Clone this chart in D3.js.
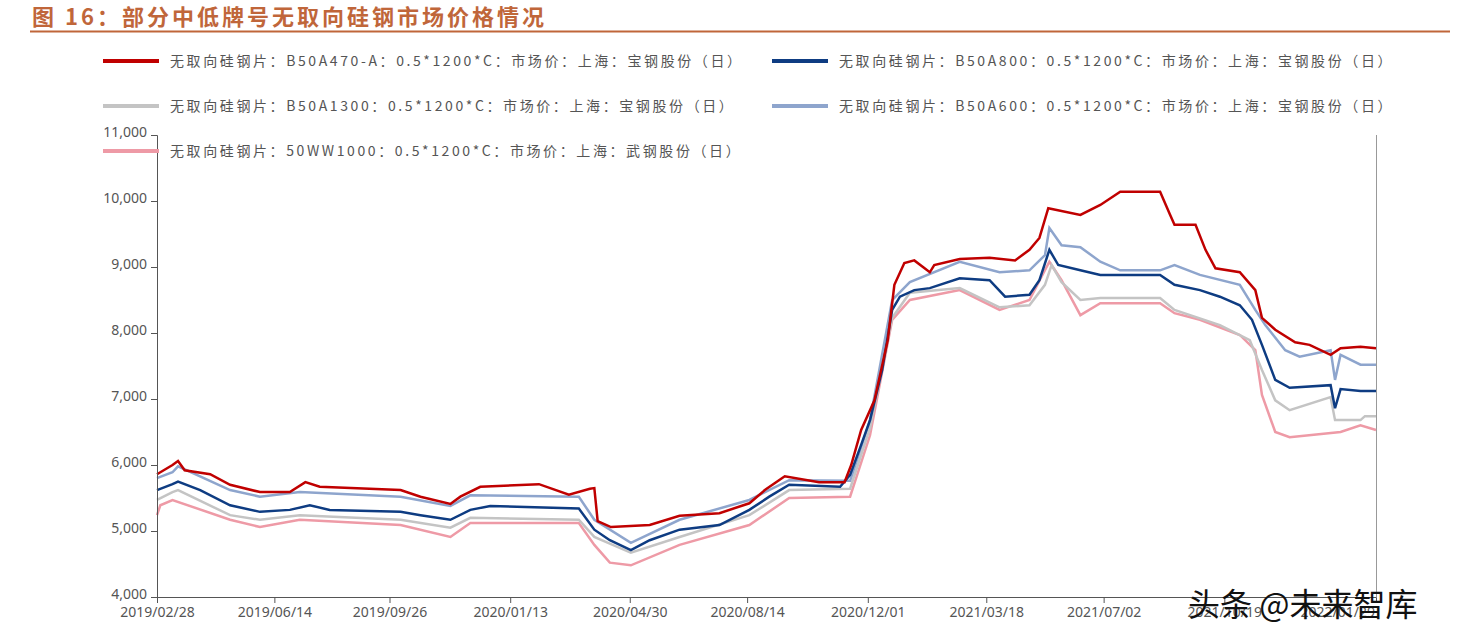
<!DOCTYPE html>
<html><head><meta charset="utf-8">
<script src="https://cdn.jsdelivr.net/npm/d3@7"></script>
<style>body{margin:0;background:#fff;font-family:"Noto Sans CJK SC","DejaVu Sans",sans-serif}</style>
</head><body><svg id="c" width="1480" height="643"></svg>
<script>
const tickDates=["2019-02-28","2019-06-14","2019-09-26","2020-01-13","2020-04-30","2020-08-14","2020-12-01","2021-03-18","2021-07-02","2021-10-19","2022-01-29"];
const tickLabels=["2019/02/28","2019/06/14","2019/09/26","2020/01/13","2020/04/30","2020/08/14","2020/12/01","2021/03/18","2021/07/02","2021/10/19","2022/01/29"];
const yTicks=[4000,5000,6000,7000,8000,9000,10000,11000];
const seriesNames=["无取向硅钢片：B50A470-A：0.5*1200*C：市场价：上海：宝钢股份（日）","无取向硅钢片：B50A800：0.5*1200*C：市场价：上海：宝钢股份（日）","无取向硅钢片：B50A1300：0.5*1200*C：市场价：上海：宝钢股份（日）","无取向硅钢片：B50A600：0.5*1200*C：市场价：上海：宝钢股份（日）","无取向硅钢片：50WW1000：0.5*1200*C：市场价：上海：武钢股份（日）"];
const colors=["#c00000","#0e3c82","#c4c4c4","#8ea5cd","#ee9aa6"];
const redData=[["2019-02-28",5860],["2019-03-14",6000],["2019-03-19",6060],["2019-03-25",5920],["2019-04-17",5860],["2019-05-05",5700],["2019-06-01",5590],["2019-06-28",5590],["2019-07-12",5740],["2019-07-25",5670],["2019-10-06",5620],["2019-10-24",5520],["2019-11-20",5410],["2019-11-29",5520],["2019-12-17",5670],["2020-02-08",5710],["2020-03-06",5550],["2020-03-25",5640],["2020-03-29",5650],["2020-04-01",5150],["2020-04-13",5060],["2020-05-18",5090],["2020-06-14",5230],["2020-07-20",5270],["2020-08-16",5420],["2020-08-30",5620],["2020-09-17",5830],["2020-10-18",5740],["2020-11-10",5740],["2020-11-16",6000],["2020-11-25",6530],["2020-12-07",6980],["2020-12-19",7890],["2020-12-25",8730],["2021-01-03",9060],["2021-01-12",9100],["2021-01-26",8920],["2021-01-30",9030],["2021-02-22",9120],["2021-03-21",9140],["2021-04-13",9100],["2021-04-26",9260],["2021-05-05",9440],["2021-05-13",9890],["2021-06-11",9790],["2021-06-29",9940],["2021-07-17",10140],["2021-08-22",10140],["2021-08-31",9790],["2021-09-04",9640],["2021-09-23",9640],["2021-10-02",9260],["2021-10-11",8980],["2021-11-02",8920],["2021-11-16",8650],["2021-11-22",8230],["2021-12-04",8050],["2021-12-22",7860],["2022-01-04",7820],["2022-01-23",7670],["2022-02-01",7770],["2022-02-19",7790],["2022-03-05",7770]];
const navyData=[["2019-02-28",5620],["2019-03-14",5710],["2019-03-19",5750],["2019-04-08",5620],["2019-05-05",5390],["2019-06-01",5290],["2019-06-28",5320],["2019-07-16",5390],["2019-08-03",5320],["2019-10-06",5290],["2019-10-24",5240],["2019-11-20",5170],["2019-12-08",5320],["2019-12-26",5380],["2020-03-15",5340],["2020-03-29",5020],["2020-04-12",4860],["2020-05-01",4710],["2020-05-18",4860],["2020-06-14",5020],["2020-07-20",5090],["2020-08-16",5320],["2020-09-03",5520],["2020-09-21",5700],["2020-11-06",5670],["2020-11-15",5850],["2020-11-24",6260],["2020-12-03",6680],["2020-12-14",7440],["2020-12-23",8350],["2020-12-30",8550],["2021-01-12",8650],["2021-01-26",8680],["2021-02-22",8830],["2021-03-21",8800],["2021-04-04",8550],["2021-04-26",8580],["2021-05-05",8800],["2021-05-14",9260],["2021-05-22",9030],["2021-06-11",8950],["2021-06-29",8880],["2021-08-22",8880],["2021-09-04",8730],["2021-09-27",8650],["2021-10-15",8550],["2021-11-02",8420],["2021-11-13",8200],["2021-11-22",7820],["2021-12-04",7290],["2021-12-17",7170],["2022-01-23",7210],["2022-01-27",6860],["2022-02-01",7150],["2022-02-19",7120],["2022-03-05",7120]];
const grayData=[["2019-02-28",5470],["2019-03-14",5590],["2019-03-19",5620],["2019-05-05",5240],["2019-06-01",5170],["2019-07-07",5240],["2019-10-06",5170],["2019-11-20",5050],["2019-12-08",5200],["2020-03-15",5170],["2020-03-29",4910],["2020-05-01",4670],["2020-06-14",4910],["2020-08-16",5240],["2020-09-21",5620],["2020-11-15",5640],["2020-12-03",6560],["2020-12-23",8230],["2021-01-08",8610],["2021-02-22",8680],["2021-03-30",8390],["2021-04-26",8420],["2021-05-10",8730],["2021-05-16",9030],["2021-05-25",8770],["2021-06-11",8500],["2021-06-29",8530],["2021-08-22",8530],["2021-09-04",8350],["2021-10-15",8120],["2021-11-11",7890],["2021-11-22",7440],["2021-12-04",6980],["2021-12-17",6830],["2022-01-23",7030],["2022-01-27",6680],["2022-02-19",6680],["2022-02-23",6740],["2022-03-05",6740]];
const lblueData=[["2019-02-28",5800],["2019-03-14",5890],["2019-03-19",5980],["2019-05-05",5620],["2019-06-01",5520],["2019-07-07",5590],["2019-10-06",5520],["2019-11-20",5380],["2019-12-08",5540],["2020-03-15",5520],["2020-03-29",5170],["2020-05-01",4820],["2020-06-14",5170],["2020-08-16",5470],["2020-09-21",5770],["2020-11-15",5760],["2020-12-03",6680],["2020-12-23",8500],["2021-01-08",8770],["2021-02-22",9080],["2021-03-30",8920],["2021-04-26",8950],["2021-05-10",9180],["2021-05-14",9590],["2021-05-25",9330],["2021-06-11",9300],["2021-06-29",9080],["2021-07-17",8950],["2021-08-22",8950],["2021-09-04",9030],["2021-09-27",8880],["2021-11-02",8730],["2021-11-16",8350],["2021-11-25",8120],["2021-12-13",7740],["2021-12-26",7640],["2022-01-23",7740],["2022-01-27",7290],["2022-02-01",7670],["2022-02-19",7520],["2022-03-05",7520]];
const pinkData=[["2019-02-28",5240],["2019-03-03",5390],["2019-03-14",5470],["2019-05-05",5170],["2019-06-01",5060],["2019-07-07",5170],["2019-10-06",5090],["2019-11-20",4910],["2019-12-08",5120],["2020-03-15",5120],["2020-03-29",4790],["2020-04-12",4520],["2020-05-01",4480],["2020-06-14",4790],["2020-08-16",5090],["2020-09-21",5500],["2020-11-15",5520],["2020-12-03",6450],["2020-12-23",8200],["2021-01-08",8500],["2021-02-22",8650],["2021-03-30",8350],["2021-04-26",8500],["2021-05-14",9080],["2021-05-25",8800],["2021-06-11",8270],["2021-06-29",8450],["2021-08-22",8450],["2021-09-04",8300],["2021-09-27",8200],["2021-11-02",7970],["2021-11-16",7740],["2021-11-22",7060],["2021-12-04",6500],["2021-12-17",6420],["2022-02-01",6500],["2022-02-19",6600],["2022-03-05",6530]];
const drawOrder=[[pinkData,4],[grayData,2],[lblueData,3],[navyData,1],[redData,0]];

const svg=d3.select("#c");
const P=d3.timeParse("%Y-%m-%d");
const x=d3.scaleTime().domain([P("2019-02-28"),P("2022-03-05")]).range([157,1376]);
const y=d3.scaleLinear().domain([4000,11000]).range([597,135]);
const tc="#c0663a";
svg.append("text").attr("x",32).attr("y",25).attr("fill",tc).attr("font-size",22).attr("font-weight","bold").attr("letter-spacing",3).text("图 16：部分中低牌号无取向硅钢市场价格情况");
svg.append("line").attr("x1",30).attr("x2",1450).attr("y1",31.5).attr("y2",31.5).attr("stroke",tc).attr("stroke-width",2);
svg.append("line").attr("x1",1376.5).attr("x2",1376.5).attr("y1",135).attr("y2",597).attr("stroke","#999");
const line=d3.line().x(d=>x(P(d[0]))).y(d=>y(d[1]));
drawOrder.forEach(([data,i])=>svg.append("path").attr("d",line(data)).attr("fill","none").attr("stroke",colors[i]).attr("stroke-width",2.5));
const ya=svg.append("g").attr("transform","translate(157,0)").call(d3.axisLeft(y).tickValues(yTicks).tickFormat(d3.format(",")).tickSize(6).tickPadding(4));
const xa=svg.append("g").attr("transform","translate(0,597)").call(d3.axisBottom(x).tickValues(tickDates.map(P)).tickFormat((d,i)=>tickLabels[i]).tickSize(6).tickPadding(4));
[ya,xa].forEach(a=>{a.select(".domain").attr("stroke","#555");a.selectAll("line").attr("stroke","#555");a.selectAll("text").attr("fill","#555").attr("font-size",14).attr("font-family","Noto Sans, sans-serif");});
ya.selectAll("text").attr("dy","0.1em");
const leg=[[0,103,61],[1,772,61],[2,103,106],[3,772,106],[4,103,151]];
leg.forEach(([i,lx,ly])=>{svg.append("line").attr("x1",lx).attr("x2",lx+56).attr("y1",ly).attr("y2",ly).attr("stroke",colors[i]).attr("stroke-width",4);
svg.append("text").attr("x",lx+67).attr("y",ly+5).attr("font-size",14).attr("letter-spacing",2.6).attr("fill","#555").text(seriesNames[i]);});
svg.append("text").attr("x",1188).attr("y",616).attr("font-size",32).attr("fill","#111").text("头条 @未来智库");
</script></body></html>
